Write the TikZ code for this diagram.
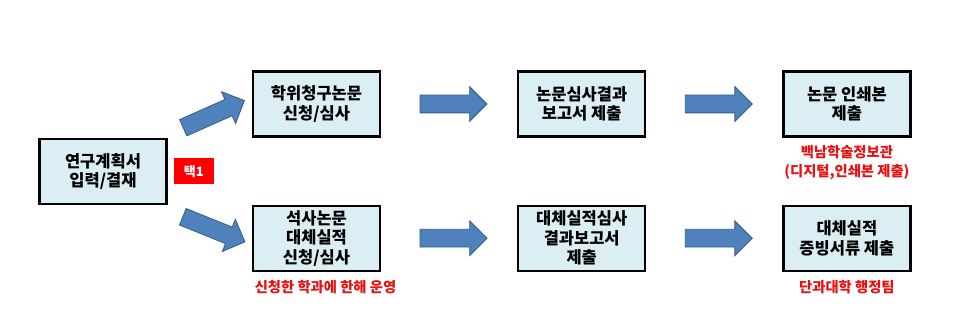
\documentclass[tikz,border=0pt]{standalone}
\usepackage{fontspec}
\setmainfont{Noto Sans CJK KR}
\usetikzlibrary{positioning,shapes.arrows,calc}
\definecolor{boxfill}{RGB}{219,238,244}
\definecolor{arrowfill}{RGB}{79,129,189}
\definecolor{arrowline}{RGB}{56,93,138}
\definecolor{notered}{RGB}{232,16,16}
\tikzset{
  stepbox/.style={
    draw=black,
    fill=boxfill,
    line width=2.2pt,
    minimum width=127pt,
    minimum height=65pt,
    align=center,
    font=\fontsize{16.5}{19.5}\selectfont\bfseries
  },
  fatarrow/.style={single arrow, draw=arrowline, fill=arrowfill, line width=0.8pt,
    minimum height=67pt, inner sep=8.5pt, single arrow head extend=8.5pt},
  note/.style={text=notered, align=center, inner sep=0pt, font=\fontsize{14.3}{18.5}\selectfont\bfseries},
  tag/.style={fill=red, text=white, minimum width=40pt, minimum height=26pt, inner sep=0pt,
    font=\fontsize{13}{15}\selectfont\bfseries}
}

\begin{document}
\begin{tikzpicture}[x=1pt, y=-1pt]
        \fill[white] (0,0) rectangle (956,331);
        \node[stepbox] (n1) at (103,171.5) {연구계획서\\입력/결재};
        \node[stepbox] (n2) at (316.5,104) {학위청구논문\\신청/심사};
        \node[stepbox, right=136pt of n2] (n4) {논문심사결과\\보고서 제출};
        \node[stepbox, right=136pt of n4] (n6) {논문 인쇄본\\제출};
        \node[stepbox, below=67pt of n2] (n3) {석사논문\\대체실적\\신청/심사};
        \node[stepbox, below=67pt of n4] (n5) {대체실적심사\\결과보고서\\제출};
        \node[stepbox, below=67pt of n6] (n7) {대체실적\\증빙서류 제출};
        \node[tag, right=6pt of n1] (t1) {택1};
        \node[note, below=8pt of n3, xshift=9pt] (m3) {신청한 학과에 한해 운영};
        \node[note, below=8pt of n6] (m6) {백남학술정보관\\(디지털,인쇄본 제출)};
        \node[note, below=8pt of n7] (m7) {단과대학 행정팀};
        \node[fatarrow, rotate=24] (a12) at ($(n1.north east)!0.5!(n2.west)+(0,-5)$) {};
        \node[fatarrow, rotate=-22] (a13) at ($(n1.south east)!0.5!(n3.west)+(0,6)$) {};
        \node[fatarrow] (a24) at ($(n2.east)!0.5!(n4.west)$) {};
        \node[fatarrow] (a46) at ($(n4.east)!0.5!(n6.west)$) {};
        \node[fatarrow] (a35) at ($(n3.east)!0.5!(n5.west)$) {};
        \node[fatarrow] (a57) at ($(n5.east)!0.5!(n7.west)$) {};
      \end{tikzpicture}
\end{document}
